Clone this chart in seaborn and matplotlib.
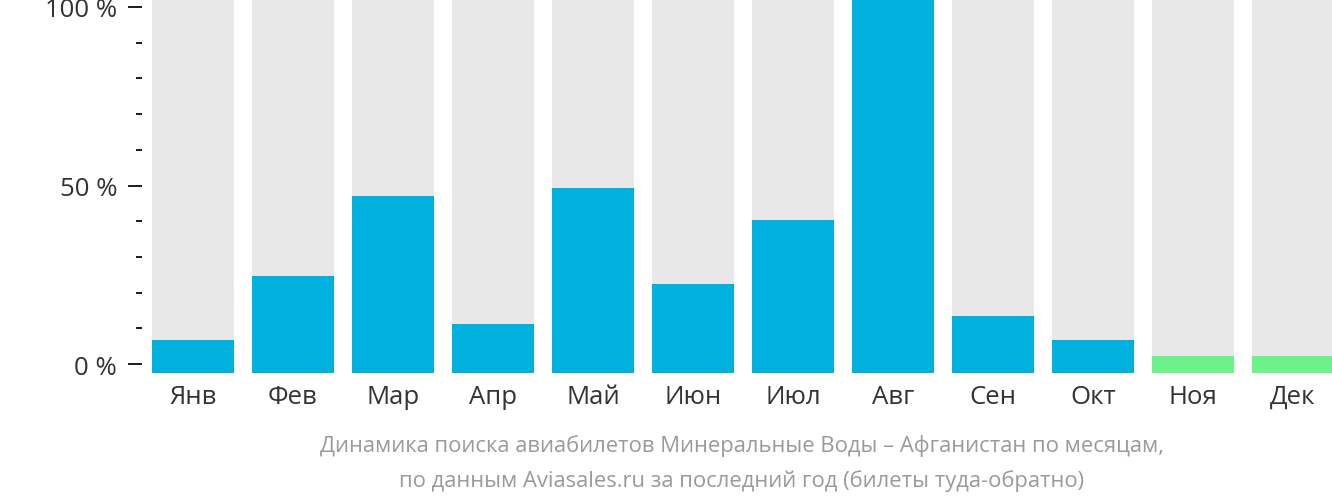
import matplotlib
matplotlib.use("Agg")
import matplotlib.pyplot as plt
import seaborn as sns
import pandas as pd
from matplotlib.ticker import MultipleLocator, FixedLocator

months = ["Янв", "Фев", "Мар", "Апр", "Май", "Июн", "Июл", "Авг", "Сен", "Окт", "Ноя", "Дек"]
values = [6.7, 24.6, 47.1, 11.2, 49.3, 22.4, 40.3, 103.0, 13.4, 6.7, 2.2, 2.2]
bar_colors = ["#00b1dd"] * 10 + ["#6cf28a"] * 2
major_ticks = [0, 50, 100]
major_labels = ["0 %", "50 %", "100 %"]
title_lines = ["Динамика поиска авиабилетов Минеральные Воды – Афганистан по месяцам,",
               "по данным Aviasales.ru за последний год (билеты туда-обратно)"]

BASE = -2.52
TOP = 102.24
PX = 72 / 100  # points per pixel

sns.set_style("white")
plt.rcParams["font.family"] = ["Open Sans", "DejaVu Sans"]

df = pd.DataFrame({"month": months, "value": values})
df["height"] = df["value"] - BASE
df["bg"] = TOP + 5 - BASE

fig = plt.figure(figsize=(13.32, 5.02), dpi=100)
ax = fig.add_axes([142 / 1332, (502 - 374) / 502, 1190 / 1332, 374 / 502])

sns.barplot(data=df, x="month", y="bg", color="#e8e8e8", width=0.82,
            bottom=BASE, ax=ax, saturation=1, linewidth=0)
sns.barplot(data=df, x="month", y="height", hue="month", palette=bar_colors,
            width=0.82, bottom=BASE, ax=ax, saturation=1, linewidth=0, legend=False)

ax.set_xlim(-0.51, 11.39)
ax.set_ylim(BASE, TOP)
for s in ax.spines.values():
    s.set_visible(False)
ax.set_xlabel("")
ax.set_ylabel("")

ax.yaxis.set_major_locator(FixedLocator(major_ticks))
ax.set_yticklabels(major_labels)
ax.yaxis.set_minor_locator(MultipleLocator(10))
ax.tick_params(axis="y", which="major", length=14 * PX, width=2 * PX, color="#222222",
               pad=11 * PX, labelsize=18.5, labelcolor="#333333", left=True)
ax.tick_params(axis="y", which="minor", length=6 * PX, width=2 * PX, color="#222222", left=True)
ax.tick_params(axis="x", length=0, pad=11 * PX, labelsize=18.5, labelcolor="#333333")

fig.text(742 / 1332, 1 - 446 / 502, title_lines[0], ha="center", va="center",
         fontsize=15.8, color="#9a9a9a")
fig.text(742 / 1332, 1 - 481 / 502, title_lines[1], ha="center", va="center",
         fontsize=15.8, color="#9a9a9a")

fig.savefig("out.png", dpi=100)
